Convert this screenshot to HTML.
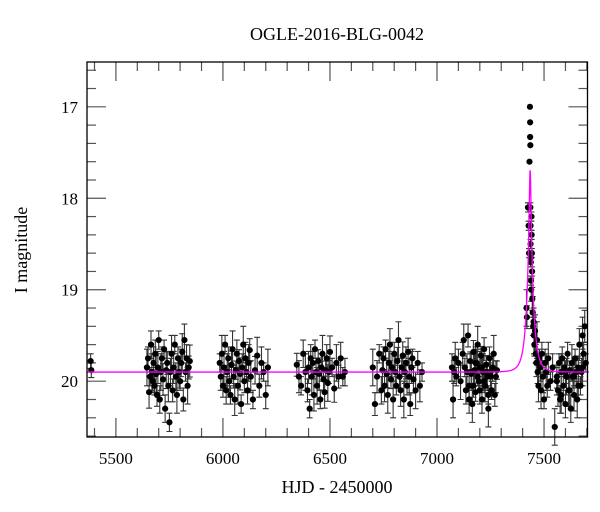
<!DOCTYPE html>
<html><head><meta charset="utf-8"><style>
body{margin:0;background:#fff}
svg{display:block;font-family:"Liberation Serif",serif}
</style></head><body>
<svg id="chart" width="600" height="512" viewBox="0 0 600 512" xmlns="http://www.w3.org/2000/svg">
<text x="337" y="40" font-size="18" text-anchor="middle">OGLE-2016-BLG-0042</text>
<text x="337" y="493" font-size="18" text-anchor="middle">HJD - 2450000</text>
<text transform="translate(27,250) rotate(-90)" font-size="18" text-anchor="middle">I magnitude</text>
<g id="ticks"></g>
<g id="errs"></g>
<g id="pts"></g>
<path id="model" fill="none" stroke="#ff00ff" stroke-width="1.3"/>
<rect x="87" y="62" width="500.5" height="375" fill="none" stroke="#000" stroke-width="1.3"/>
<g id="labels" font-size="17"></g>
</svg>
<script>
const xTicks=[5500,6000,6500,7000,7500];
const yTicks=[17,18,19,20];
// season times and magnitudes
const times=[5382,5385,
5645,5650,5655,5660,5664,5668,5672,5676,5680,5684,5688,5692,5696,5700,5705,5710,5715,5720,5725,5730,5735,5740,5745,5750,5755,5760,5765,5770,5775,5780,5785,5790,5795,5800,5805,5810,5815,5820,5825,5830,5835,5840,5845,
5985,5990,5995,6000,6005,6010,6015,6020,6025,6030,6035,6040,6045,6050,6055,6060,6065,6070,6075,6080,6085,6090,6095,6100,6105,6110,6115,6120,6125,6130,6140,6150,6160,6170,6180,6190,6200,6210,
6345,6355,6365,6375,6385,6395,6400,6405,6410,6415,6420,6425,6430,6435,6440,6445,6450,6455,6460,6465,6470,6475,6480,6485,6490,6495,6500,6510,6520,6530,6540,6550,6560,6570,
6700,6710,6720,6730,6740,6745,6750,6755,6760,6765,6770,6775,6780,6785,6790,6795,6800,6805,6810,6815,6820,6825,6830,6835,6840,6845,6850,6855,6860,6865,6870,6875,6880,6885,6890,6900,6910,6920,6930,
7070,7075,7080,7085,7090,7100,7110,7120,7125,7130,7135,7140,7145,7150,7155,7160,7165,7170,7175,7180,7185,7190,7195,7200,7205,7210,7215,7220,7225,7230,7235,7240,7245,7250,7255,7260,7265,7270,7275,7280,7150,7160,7170,7180,7190,7200,7210,7220,7230,7240,7250,
7418,7420,7425,7428,7430,7432,7434,7435,7435,7436,7436,7437,7437,7438,7438,7439,7440,7441,7442,7443,7444,7445,7447,7449,7451,7453,7455,7458,7461,7464,7467,7470,7474,7478,7482,7486,7490,7495,7500,7505,7510,7515,7520,7530,7540,7550,7560,7565,7570,7575,7580,7585,7590,7595,7600,7605,7610,7615,7620,7625,7630,7635,7640,7645,7650,7655,7660,7665,7670,7675,7680,7685,7690,7695,7560,7580,7600,7620,7640,7660,7680];
const mags=[19.78,19.88,
19.85,19.75,20.12,19.95,19.6,19.9,20.0,19.8,20.05,19.7,19.92,20.15,19.85,19.55,20.2,19.9,19.75,19.98,19.65,20.3,19.88,19.8,20.05,20.45,19.9,19.7,20.1,19.85,19.6,19.95,20.15,19.75,19.9,20.0,19.8,19.68,20.2,19.55,19.9,19.75,20.05,19.85,19.78,
19.8,19.95,19.7,20.05,19.85,19.6,20.1,19.9,19.75,20.0,20.15,19.82,19.65,19.95,20.2,19.88,19.7,20.05,19.78,19.92,20.25,19.85,19.6,20.0,19.75,19.9,20.1,19.8,19.66,19.95,20.2,19.88,19.72,20.05,19.8,19.9,20.15,19.85,
19.82,19.95,20.05,19.7,19.9,20.1,19.85,20.3,19.75,19.95,19.8,20.15,19.65,19.9,20.05,19.78,19.92,20.2,19.85,19.7,19.98,20.12,19.88,19.75,20.02,19.9,19.68,19.85,20.08,19.8,19.95,19.75,19.95,19.9,
19.85,20.25,19.95,19.7,20.1,19.88,19.75,20.05,19.65,19.92,20.15,19.8,19.6,19.98,19.85,20.2,19.7,19.9,20.05,19.78,19.55,19.95,20.1,19.85,19.72,20.2,19.9,19.8,20.05,19.68,19.95,20.25,19.85,19.75,19.98,20.1,19.8,20.05,19.9,
19.85,20.2,19.9,19.75,19.95,19.8,20.0,19.7,19.55,19.85,20.1,19.9,19.5,20.05,19.78,19.92,20.25,19.68,19.88,20.12,19.8,19.6,20.0,19.85,19.72,20.2,19.9,19.65,20.05,19.82,19.95,20.3,19.75,19.9,20.1,19.85,19.7,20.15,19.95,19.88,20.2,19.9,20.05,19.8,19.95,20.1,19.85,20.0,19.9,20.15,19.95,
19.2,19.3,18.1,18.3,18.6,17.6,17.0,17.17,17.33,17.42,18.1,18.3,18.5,18.65,18.7,18.9,19.0,18.2,18.4,18.6,18.8,19.1,19.25,19.4,19.35,19.5,19.6,19.45,19.7,19.8,19.55,19.9,20.05,19.75,19.85,20.1,19.7,19.95,20.2,19.8,19.9,20.05,19.75,20.0,19.85,20.5,19.95,20.1,19.8,20.2,19.9,19.75,20.05,19.85,20.25,19.95,19.7,20.1,19.88,20.3,19.8,19.95,20.15,19.75,19.9,20.2,19.85,19.6,20.05,19.9,19.5,19.7,19.4,19.8,20.0,20.15,19.9,20.1,19.95,20.05,19.85];
const errs=[0.08,0.08];
const modelParams=[7435,30,0.132,19.9]; // t0, tE, u0, base mag
const X0=5365,X1=7703,Y0=16.51,Y1=20.61,L=87,R=587.5,T=62,B=437;
const sx=t=>L+(t-X0)/(X1-X0)*(R-L);
const sy=m=>T+(m-Y0)/(Y1-Y0)*(B-T);
const NS='http://www.w3.org/2000/svg';
function mk(tag,at,parent){const e=document.createElementNS(NS,tag);for(const k in at)e.setAttribute(k,at[k]);parent.appendChild(e);return e;}
const tg=document.getElementById('ticks'),lg=document.getElementById('labels');
for(let t=5400;t<=7700;t+=100){const x=sx(t),len=(t%500===0)?19:9;
 let a=mk('line',{x1:x,x2:x,y1:B,y2:B-len,stroke:'#555','stroke-width':1.2},tg);
 
 
 let b=mk('line',{x1:x,x2:x,y1:T,y2:T+len,stroke:'#555','stroke-width':1.2},tg);
 
 }
for(let i=0;i<=20;i++){const m=16.6+i*0.2;if(m>Y1)break;const y=sy(m),len=(Math.abs(m-Math.round(m))<0.01)?19:9;
 let a=mk('line',{x1:L,x2:L+len,y1:y,y2:y,stroke:'#555','stroke-width':1.2},tg);
 
 
 let b=mk('line',{x1:R,x2:R-len,y1:y,y2:y,stroke:'#555','stroke-width':1.2},tg);
 
 }
xTicks.forEach(t=>{const e=mk('text',{x:sx(t),y:464,'text-anchor':'middle'},lg);e.textContent=t;
 
 });
yTicks.forEach(m=>{const e=mk('text',{x:78,y:sy(m)+6,'text-anchor':'end'},lg);e.textContent=m;
 
 });
const eg=document.getElementById('errs'),pg=document.getElementById('pts');
times.forEach((t,i)=>{const m=mags[i];const x=sx(t),y=sy(m);
 const peak=m<17.7;
 const er=peak?0.02:(m<19?0.05:(errs[i]||0.1+((i*7)%5)*0.025));
 const y1=sy(m-er),y2=sy(m+er);
 if(!peak){const g=mk('path',{d:`M${x},${y1}V${y2}M${x-3},${y1}H${x+3}M${x-3},${y2}H${x+3}`,stroke:'#333','stroke-width':1.1,fill:'none'},eg);
 
 }
 const c=mk('circle',{cx:x,cy:y,r:3.1,fill:'#000'},pg);
 
 });
const [t0,tE,u0,base]=modelParams;let d='';
for(let t=X0;t<=X1;t+=0.5){const u=Math.sqrt(u0*u0+((t-t0)/tE)**2);const A=(u*u+2)/(u*Math.sqrt(u*u+4));const m=base-2.5*Math.log10(A);
 d+=(d?'L':'M')+sx(t).toFixed(2)+','+sy(m).toFixed(2);}
document.getElementById('model').setAttribute('d',d);
</script>
</body></html>
